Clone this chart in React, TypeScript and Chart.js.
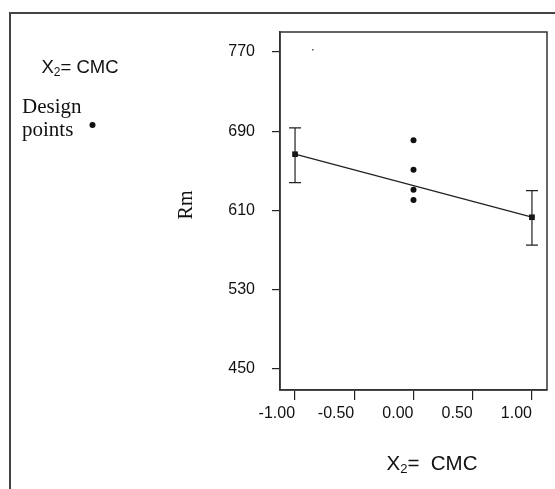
import React, { useEffect, useRef } from "react";
import { Chart, registerables } from "chart.js";

Chart.register(...registerables);

const xTicks = [-1, -0.5, 0, 0.5, 1];
const yTicks = [450, 530, 610, 690, 770];
const meanX = [-1, 1];
const meanY = [666.7, 603.1];
const errHigh = [693.3, 630.0];
const errLow = [638.1, 574.9];
const centerX = [0, 0, 0, 0];
const centerY = [680.9, 650.9, 630.8, 620.6];
const speckX = [-0.85];
const speckY = [772];

const SANS = "'Liberation Sans', Arial, sans-serif";
const SERIF = "'Liberation Serif', 'Times New Roman', serif";

function drawSubText(ctx: CanvasRenderingContext2D, x: number, y: number, size: number, main: string, sub: string, rest: string) {
  ctx.save();
  ctx.fillStyle = "#111";
  ctx.textAlign = "left";
  ctx.textBaseline = "alphabetic";
  ctx.font = `${size}px ${SANS}`;
  ctx.fillText(main, x, y);
  let cx = x + ctx.measureText(main).width;
  ctx.font = `${Math.round(size * 0.65)}px ${SANS}`;
  ctx.fillText(sub, cx, y + size * 0.18);
  cx += ctx.measureText(sub).width;
  ctx.font = `${size}px ${SANS}`;
  ctx.fillText(rest, cx, y);
  ctx.restore();
}

const decorPlugin = {
  id: "decor",
  beforeDraw(chart: any) {
    const ctx = chart.ctx as CanvasRenderingContext2D;
    ctx.save();
    ctx.strokeStyle = "#444";
    ctx.lineWidth = 2;
    ctx.beginPath();
    ctx.moveTo(10, 489);
    ctx.lineTo(10, 13);
    ctx.lineTo(555, 13);
    ctx.stroke();
    ctx.restore();
  },
  afterDatasetsDraw(chart: any) {
    const ctx = chart.ctx as CanvasRenderingContext2D;
    const xs = chart.scales.x;
    const ys = chart.scales.y;
    ctx.save();
    ctx.strokeStyle = "#222";
    ctx.lineWidth = 1.2;
    for (let i = 0; i < meanX.length; i++) {
      const px = xs.getPixelForValue(meanX[i]);
      const pt = ys.getPixelForValue(errHigh[i]);
      const pb = ys.getPixelForValue(errLow[i]);
      ctx.beginPath();
      ctx.moveTo(px, pt);
      ctx.lineTo(px, pb);
      ctx.moveTo(px - 6, pt);
      ctx.lineTo(px + 6, pt);
      ctx.moveTo(px - 6, pb);
      ctx.lineTo(px + 6, pb);
      ctx.stroke();
    }
    ctx.restore();
  },
  afterDraw(chart: any) {
    const ctx = chart.ctx as CanvasRenderingContext2D;
    const a = chart.chartArea;
    ctx.save();
    ctx.strokeStyle = "#333";
    ctx.lineWidth = 1.5;
    ctx.strokeRect(a.left, a.top, a.right - a.left, a.bottom - a.top);
    ctx.restore();

    // legend
    drawSubText(ctx, 41.5, 72.5, 18.5, "X", "2", "= CMC");
    ctx.save();
    ctx.fillStyle = "#111";
    ctx.font = `21px ${SERIF}`;
    ctx.textAlign = "left";
    ctx.textBaseline = "alphabetic";
    ctx.fillText("Design", 22, 112.5);
    ctx.fillText("points", 22, 135.5);
    ctx.beginPath();
    ctx.arc(92.5, 125, 3, 0, Math.PI * 2);
    ctx.fill();
    // y title
    ctx.font = `20px ${SERIF}`;
    ctx.translate(191.5, 205);
    ctx.rotate(-Math.PI / 2);
    ctx.textAlign = "center";
    ctx.fillText("Rm", 0, 0);
    ctx.restore();

    // x title
    drawSubText(ctx, 386.5, 469.5, 20.5, "X", "2", "=  CMC");
  },
};

export default function App() {
  const ref = useRef<HTMLCanvasElement | null>(null);
  useEffect(() => {
    if (!ref.current) return;
    const chart = new Chart(ref.current, {
      type: "scatter",
      data: {
        datasets: [
          {
            data: meanX.map((x, i) => ({ x, y: meanY[i] })),
            showLine: true,
            borderColor: "#222",
            borderWidth: 1.3,
            pointStyle: "rect",
            pointRadius: 4,
            pointBackgroundColor: "#111",
            pointBorderColor: "#111",
            pointBorderWidth: 0,
          },
          {
            data: centerX.map((x, i) => ({ x, y: centerY[i] })),
            pointStyle: "circle",
            pointRadius: 3,
            pointBackgroundColor: "#111",
            pointBorderColor: "#111",
            pointBorderWidth: 0,
          },
          {
            data: speckX.map((x, i) => ({ x, y: speckY[i] })),
            pointRadius: 0.8,
            pointBackgroundColor: "#333",
            pointBorderWidth: 0,
          },
        ],
      },
      options: {
        animation: false,
        responsive: false,
        devicePixelRatio: 1,
        layout: { padding: { left: 0, right: 8, top: 32, bottom: 0 } },
        plugins: { legend: { display: false }, tooltip: { enabled: false } },
        scales: {
          x: {
            type: "linear",
            min: -1.127,
            max: 1.127,
            afterBuildTicks: (s: any) => {
              s.ticks = xTicks.map((v) => ({ value: v }));
            },
            afterFit: (s: any) => {
              s.height = 99;
            },
            grid: { display: true, drawOnChartArea: false, drawTicks: true, tickLength: 10, color: "#222", lineWidth: 1.2 },
            border: { display: true, color: "#333", width: 1.5 },
            ticks: {
              callback: (v: any) => Number(v).toFixed(2),
              font: { family: SANS, size: 16 },
              color: "#111",
              padding: 4,
              maxRotation: 0,
              autoSkip: false,
              align: "end",
            },
          },
          y: {
            type: "linear",
            min: 428.8,
            max: 790,
            afterBuildTicks: (s: any) => {
              s.ticks = yTicks.map((v) => ({ value: v }));
            },
            afterFit: (s: any) => {
              s.width = 280;
            },
            grid: { display: true, drawOnChartArea: false, drawTicks: true, tickLength: 8, color: "#222", lineWidth: 1.2 },
            border: { display: true, color: "#333", width: 1.5 },
            ticks: {
              callback: (v: any) => String(v),
              font: { family: SANS, size: 16 },
              color: "#111",
              padding: 17,
              autoSkip: false,
            },
          },
        },
      },
      plugins: [decorPlugin],
    } as any);
    return () => chart.destroy();
  }, []);
  return (
    <canvas
      ref={ref}
      width={555}
      height={489}
      style={{ position: "absolute", left: 0, top: 0, width: 555, height: 489, background: "#fff" }}
    />
  );
}
